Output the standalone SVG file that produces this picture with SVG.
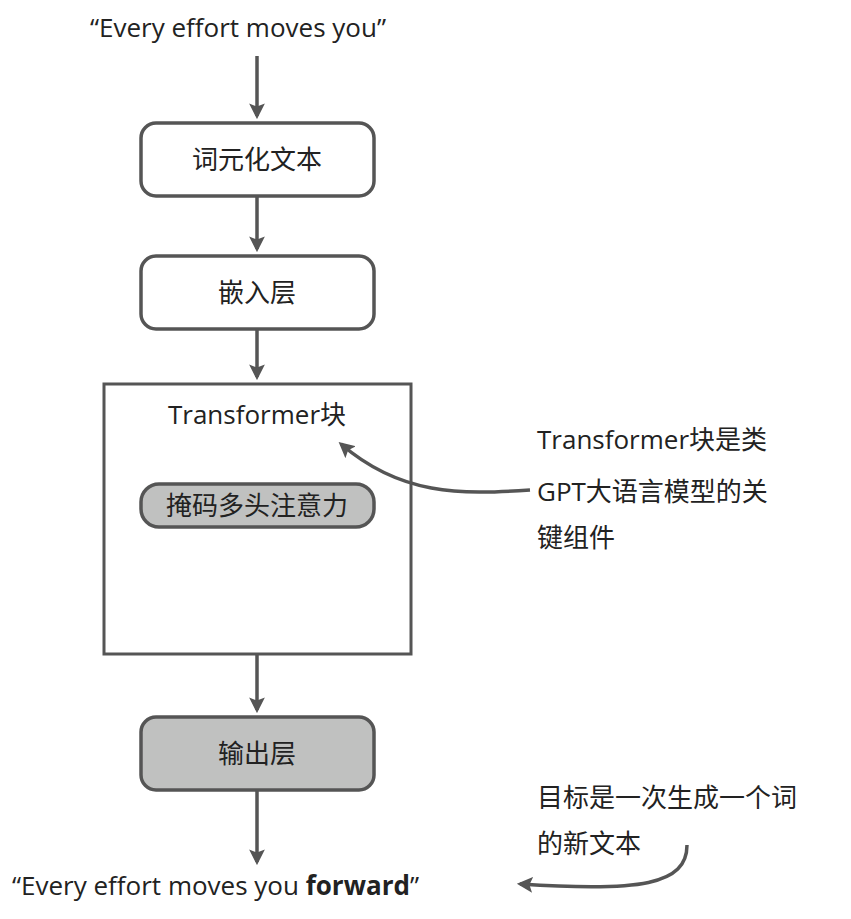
<svg xmlns="http://www.w3.org/2000/svg" width="851" height="919" viewBox="0 0 851 919">
<style>
text{font-family:"Open Sans","Noto Sans CJK SC",sans-serif;fill:#222;font-size:26px}
.m{text-anchor:middle}
.box{fill:#fff;stroke:#555;stroke-width:3.5}
.g{fill:#c0c1c0}
.c{fill:none;stroke:#555;stroke-width:3.5}
</style>
<defs><marker id="a" viewBox="0 0 10 10" refX="8" refY="5" markerWidth="4.5" markerHeight="4.5" orient="auto" markerUnits="strokeWidth"><path d="M0,0L10,5L0,10L2,5z" fill="#555"/></marker></defs>
<rect width="851" height="919" fill="#fff"/>
<text class="m" x="238" y="37">“Every effort moves you”</text>
<g id="n1"><rect class="box" x="141" y="123" width="233" height="73" rx="15"/><text class="m" x="257" y="169">词元化文本</text></g>
<g id="n2"><rect class="box" x="141" y="256" width="233" height="73" rx="15"/><text class="m" x="257" y="302">嵌入层</text></g>
<g id="n3"><rect x="104" y="384" width="307" height="270" fill="#fff" stroke="#555" stroke-width="3"/><text class="m" x="257" y="424">Transformer块</text>
<rect class="box g" x="141" y="484" width="233" height="43" rx="18"/><text class="m" x="257" y="515">掩码多头注意力</text></g>
<g id="n4"><rect class="box g" x="141" y="717" width="233" height="73" rx="15"/><text class="m" x="257" y="763">输出层</text></g>
<text x="12" y="895">“Every effort moves you <tspan font-weight="bold">forward</tspan>”</text>
<text x="537" y="449">Transformer块是类</text>
<text x="537" y="501">GPT大语言模型的关</text>
<text x="537" y="547">键组件</text>
<text x="537" y="807">目标是一次生成一个词</text>
<text x="537" y="853">的新文本</text>
<g id="connectors">
<path class="c" d="M257,56V116" marker-end="url(#a)"/>
<path class="c" d="M257,196V249" marker-end="url(#a)"/>
<path class="c" d="M257,329V377" marker-end="url(#a)"/>
<path class="c" d="M257,654V710" marker-end="url(#a)"/>
<path class="c" d="M257,790V862" marker-end="url(#a)"/>
<path class="c" d="M530,490C460,495 400,495 341,444" marker-end="url(#a)"/>
<path class="c" d="M687,845C687,885 640,892 520,884" marker-end="url(#a)"/>
</g>
</svg>
